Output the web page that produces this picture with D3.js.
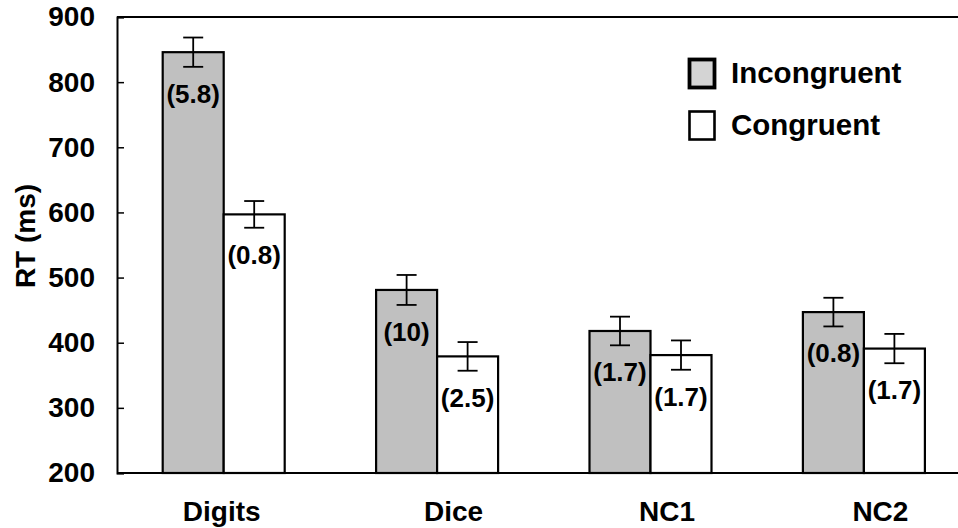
<!DOCTYPE html>
<html>
<head>
<meta charset="utf-8">
<script src="https://cdn.jsdelivr.net/npm/d3@7"></script>
<style>
  html, body { margin: 0; padding: 0; background: #fff; }
  svg { display: block; font-family: "Liberation Sans", Arial, Helvetica, sans-serif; font-weight: bold; }
</style>
</head>
<body>
<svg id="chart" width="958" height="528"></svg>
<script>
// Reaction times per stimulus condition
const categories = ["Digits", "Dice", "NC1", "NC2"];
const seriesNames = ["Incongruent", "Congruent"];
const incongruent = [846, 481, 418, 447];
const congruent = [597, 379, 381, 391];
const incongruentErr = [22.5, 23, 22, 22];
const congruentErr = [20.5, 22, 22.5, 22.5];
const incongruentNotes = ["(5.8)", "(10)", "(1.7)", "(0.8)"];
const congruentNotes = ["(0.8)", "(2.5)", "(1.7)", "(1.7)"];
const yTicks = [200, 300, 400, 500, 600, 700, 800, 900];

const svg = d3.select("#chart");
const plotLeft = 117, plotTop = 17, plotBottom = 473;

const y = d3.scaleLinear().domain([200, 900]).range([plotBottom, plotTop]);
const x = d3.scaleBand().domain(categories).range([plotLeft, plotLeft + 4 * 213.4]).padding(0);
const barW = 61;
const x1 = d3.scaleBand().domain(seriesNames)
  .range([(x.bandwidth() - 2 * barW) / 2, (x.bandwidth() + 2 * barW) / 2]).padding(0);

const fills = { Incongruent: "#c0c0c0", Congruent: "#ffffff" };

const rows = categories.map((c, i) => ({
  cat: c,
  items: [
    { s: "Incongruent", v: incongruent[i], e: incongruentErr[i], note: incongruentNotes[i] },
    { s: "Congruent", v: congruent[i], e: congruentErr[i], note: congruentNotes[i] }
  ]
}));

// bars
const g = svg.append("g");
const groups = g.selectAll("g.grp").data(rows).join("g")
  .attr("class", "grp")
  .attr("transform", d => `translate(${x(d.cat)},0)`);

groups.selectAll("rect").data(d => d.items).join("rect")
  .attr("x", d => x1(d.s))
  .attr("y", d => y(d.v))
  .attr("width", x1.bandwidth())
  .attr("height", d => y(200) - y(d.v))
  .attr("fill", d => fills[d.s])
  .attr("stroke", "#000")
  .attr("stroke-width", 2.2);

// error bars
const eb = groups.selectAll("g.err").data(d => d.items).join("g").attr("class", "err");
eb.append("line")
  .attr("x1", d => x1(d.s) + x1.bandwidth() / 2)
  .attr("x2", d => x1(d.s) + x1.bandwidth() / 2)
  .attr("y1", d => y(d.v + d.e))
  .attr("y2", d => y(d.v - d.e))
  .attr("stroke", "#000").attr("stroke-width", 1.8);
[1, -1].forEach(sgn => {
  eb.append("line")
    .attr("x1", d => x1(d.s) + x1.bandwidth() / 2 - 10)
    .attr("x2", d => x1(d.s) + x1.bandwidth() / 2 + 10)
    .attr("y1", d => y(d.v + sgn * d.e))
    .attr("y2", d => y(d.v + sgn * d.e))
    .attr("stroke", "#000").attr("stroke-width", 1.8);
});

// notes under error bars
groups.selectAll("text.note").data(d => d.items).join("text")
  .attr("class", "note")
  .attr("x", d => x1(d.s) + x1.bandwidth() / 2)
  .attr("y", d => y(d.v - d.e) + 36)
  .attr("text-anchor", "middle")
  .attr("font-size", 26)
  .attr("fill", "#000")
  .text(d => d.note);

// frame: left axis, top and bottom lines
svg.append("line").attr("x1", plotLeft).attr("x2", 958).attr("y1", plotTop).attr("y2", plotTop)
  .attr("stroke", "#000").attr("stroke-width", 2);
svg.append("line").attr("x1", plotLeft).attr("x2", 958).attr("y1", plotBottom).attr("y2", plotBottom)
  .attr("stroke", "#000").attr("stroke-width", 2);

const yAxis = svg.append("g").attr("transform", `translate(${plotLeft},0)`)
  .call(d3.axisLeft(y).tickValues(yTicks).tickSize(-7).tickPadding(22).tickFormat(d3.format("d")));
yAxis.select(".domain").attr("stroke-width", 2);
yAxis.selectAll(".tick line").attr("stroke-width", 1.5);
yAxis.selectAll(".tick text")
  .attr("font-size", 28).attr("font-family", "Liberation Sans, Arial, sans-serif")
  .attr("font-weight", "bold").attr("fill", "#000");

// y title
svg.append("text")
  .attr("transform", "translate(35,236) rotate(-90)")
  .attr("text-anchor", "middle")
  .attr("font-size", 28)
  .text("RT (ms)");

// category labels
svg.selectAll("text.cat").data(categories).join("text")
  .attr("class", "cat")
  .attr("x", (d, i) => x(d) + x.bandwidth() / 2 + (i === 0 ? -2 : 16.5))
  .attr("y", 521)
  .attr("text-anchor", "middle")
  .attr("font-size", 28)
  .text(d => d);

// legend
const legend = svg.append("g");
const legendFills = { Incongruent: "#d4d4d4", Congruent: "#ffffff" };
const legendStroke = { Incongruent: 3.8, Congruent: 2.6 };
seriesNames.forEach((s, i) => {
  const ly = 58 + i * 52;
  legend.append("rect")
    .attr("x", 689.5).attr("y", ly + 1.5)
    .attr("width", 25).attr("height", 28)
    .attr("fill", legendFills[s])
    .attr("stroke", "#000")
    .attr("stroke-width", legendStroke[s]);
  legend.append("text")
    .attr("x", 731).attr("y", ly + 25)
    .attr("font-size", 29.5)
    .text(s);
});
</script>
</body>
</html>
